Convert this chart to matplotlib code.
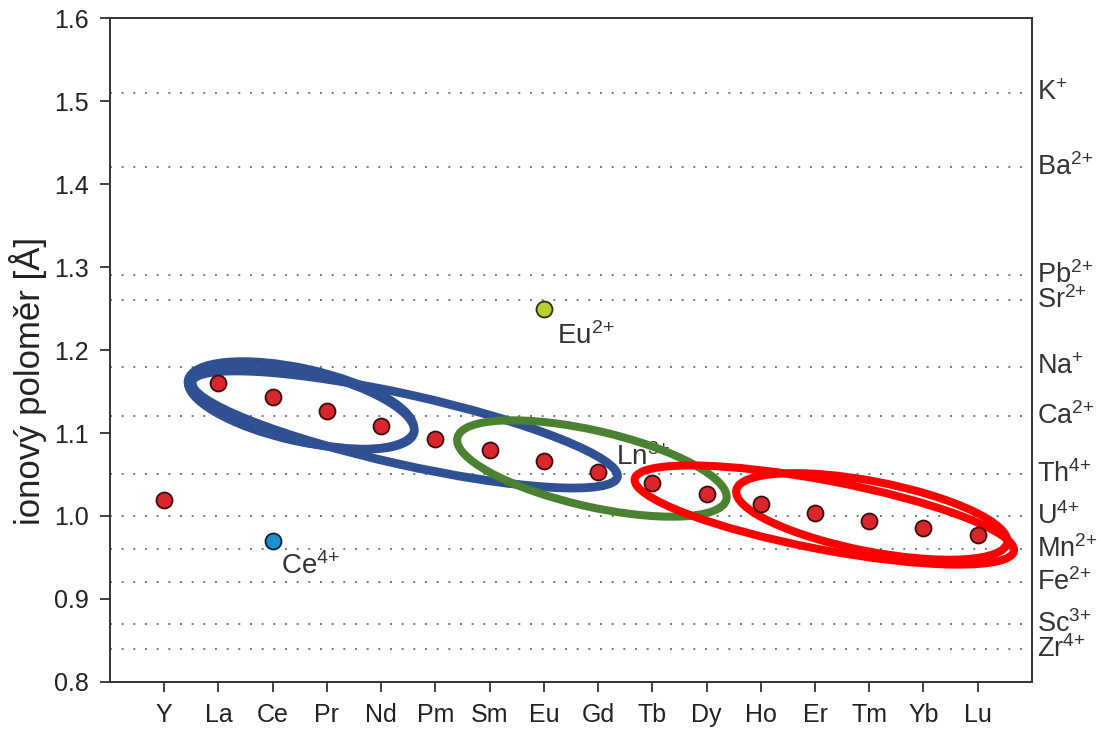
import matplotlib
matplotlib.use('Agg')
import matplotlib.pyplot as plt
from matplotlib.patches import Ellipse
from matplotlib.transforms import ScaledTranslation, blended_transform_factory

plt.rcParams['font.family'] = ['Liberation Sans', 'DejaVu Sans']
plt.rcParams['mathtext.fontset'] = 'custom'
plt.rcParams['mathtext.rm'] = 'Liberation Sans'
plt.rcParams['mathtext.it'] = 'Liberation Sans'
plt.rcParams['mathtext.bf'] = 'Liberation Sans:bold'

# ---- data ----
elements = ['Y', 'La', 'Ce', 'Pr', 'Nd', 'Pm', 'Sm', 'Eu', 'Gd',
            'Tb', 'Dy', 'Ho', 'Er', 'Tm', 'Yb', 'Lu']
radii = [1.019, 1.160, 1.143, 1.126, 1.109, 1.093, 1.079, 1.066, 1.053,
         1.040, 1.027, 1.015, 1.004, 0.994, 0.985, 0.977]
ce4_radius = 0.97
eu2_radius = 1.25

# {+} keeps mathtext from padding the plus sign
ref_ions = ['K$^{{+}}$', 'Ba$^{2{+}}$', 'Pb$^{2{+}}$', 'Sr$^{2{+}}$', 'Na$^{{+}}$',
            'Ca$^{2{+}}$', 'Th$^{4{+}}$', 'U$^{4{+}}$', 'Mn$^{2{+}}$', 'Fe$^{2{+}}$',
            'Sc$^{3{+}}$', 'Zr$^{4{+}}$']
ref_radii = [1.51, 1.42, 1.29, 1.26, 1.18, 1.12, 1.05, 1.00, 0.96, 0.92, 0.87, 0.84]

# groups circled on the chart: first index, last index, colour
groups = [(1, 4, '#2f5193'), (1, 8, '#2f5193'), (6, 10, '#4b8232'),
          (9, 15, '#ff0000'), (11, 15, '#ff0000')]

txt = '#333333'

fig = plt.figure(figsize=(10.99, 7.33), dpi=100)
ax = fig.add_axes([0.1001, 0.0696, 0.8389, 0.9058])

x = list(range(len(elements)))

# reference ion lines
lab_tr = blended_transform_factory(ax.transAxes, ax.transData)
for lab, r in zip(ref_ions, ref_radii):
    ax.axhline(r, color='#777777', lw=1.4, ls=(0, (1, 5)), zorder=1)
    ax.text(1.005, r, lab, transform=lab_tr, ha='left', va='center',
            fontsize=19.5, color=txt)


# hand drawn rings around groups, sizes in pixels
def ring(g, w, h, ang, dx=0, dy=0, lw=6.0):
    i0, i1, col = g
    cx = sum(x[i0:i1 + 1]) / (i1 - i0 + 1)
    cy = sum(radii[i0:i1 + 1]) / (i1 - i0 + 1)
    tr = fig.dpi_scale_trans + ScaledTranslation(cx, cy, ax.transData)
    e = Ellipse((dx / 100, dy / 100), w / 100, h / 100, angle=ang,
                transform=tr, fill=False, ec=col, lw=lw, zorder=3)
    ax.add_patch(e)


ring(groups[0], 228, 70, -13.5, 3.3, -1.6, lw=6.3)
ring(groups[0], 232, 74, -12.5, 1, -0.5, lw=5.2)
ring(groups[1], 436, 70, -12.6, -3.7, 0.5, lw=6.3)
ring(groups[2], 276, 76, -12.9, -6.2, 3.5, lw=5.8)
ring(groups[3], 386, 69, -10.8, 9.3, -4, lw=5.8)
ring(groups[4], 276, 70, -11, 2.5, 3.7, lw=5.8)

# points
ax.plot(x, radii, 'o', ms=11.5, mfc='#d9262c', mec='#3b0d0d', mew=1.3, zorder=5)
ax.plot(elements.index('Ce'), ce4_radius, 'o', ms=11.5, mfc='#1b8fd2',
        mec='#10202e', mew=1.3, zorder=5)
ax.plot(elements.index('Eu'), eu2_radius, 'o', ms=11.5, mfc='#b8cf2f',
        mec='#2a2f0a', mew=1.3, zorder=5)

ax.annotate('Eu$^{2{+}}$', (elements.index('Eu'), eu2_radius),
            xytext=(9.4, -20), textcoords='offset points', ha='left', va='center',
            fontsize=20, color=txt, zorder=2)
ax.annotate('Ce$^{4{+}}$', (elements.index('Ce'), ce4_radius),
            xytext=(5.8, -18), textcoords='offset points', ha='left', va='center',
            fontsize=20, color=txt, zorder=2)
ax.annotate('Ln$^{3{+}}$', (elements.index('Gd'), radii[elements.index('Gd')]),
            xytext=(13, 11), textcoords='offset points', ha='left', va='center',
            fontsize=20, color=txt, zorder=2)

# axes
ax.set_xlim(-1, len(elements))
ax.set_ylim(0.8, 1.6)
ax.set_xticks(x)
ax.set_xticklabels(elements)
ax.set_yticks([0.8, 0.9, 1.0, 1.1, 1.2, 1.3, 1.4, 1.5, 1.6])
ax.set_yticklabels(['0.8', '0.9', '1.0', '1.1', '1.2', '1.3', '1.4', '1.5', '1.6'])
ax.tick_params(axis='both', direction='out', length=7, width=1.3, color='#333333',
               labelsize=18, labelcolor='#222222', pad=8)
for s in ax.spines.values():
    s.set_linewidth(1.4)
    s.set_color('#333333')
ax.set_ylabel('ionový poloměr [Å]', fontsize=25, color='#222222')
ax.yaxis.set_label_coords(-0.068, 0.453)

fig.savefig('out.png', dpi=100)
